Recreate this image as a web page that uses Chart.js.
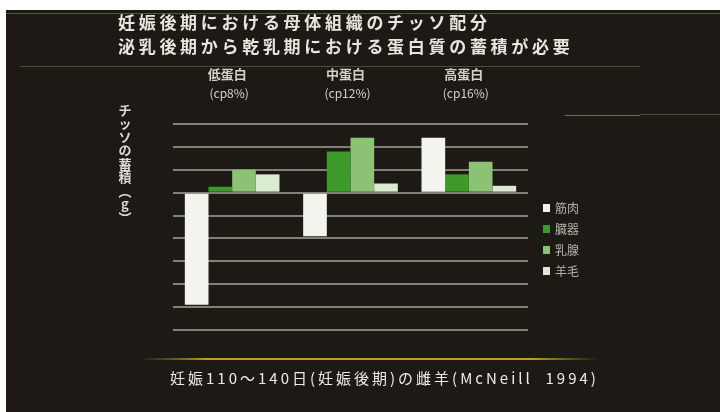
<!DOCTYPE html>
<html>
<head>
<meta charset="utf-8">
<script src="https://cdn.jsdelivr.net/npm/chart.js@4.4.0/dist/chart.umd.min.js"></script>
<style>
  html, body { margin: 0; padding: 0; background: #fff; }
  #wrap { width: 720px; height: 412px; position: relative; }
</style>
</head>
<body>
<div id="wrap"><canvas id="nChart" width="720" height="412"></canvas></div>
<script>
// Diet groups (crude protein level)
const groups = ['低蛋白', '中蛋白', '高蛋白'];
const groupCp = ['(cp8%)', '(cp12%)', '(cp16%)'];

// Tissue series labels
const tissues = ['筋肉', '臓器', '乳腺', '羊毛'];

// Nitrogen accumulation per tissue (g), one value per diet group
const muscle = [-49, -19, 24];
const organs = [2.6, 18, 8];
const mammary = [10, 24, 13.5];
const wool = [8, 4, 3];

// Scale range / gridline step
const yMin = -60;
const yMax = 30;
const yStep = 10;

const titleLines = [
    '妊娠後期における母体組織のチッソ配分',
    '泌乳後期から乾乳期における蛋白質の蓄積が必要'
];
const yTitle = ['チ', 'ッ', 'ソ', 'の', '蓄', '積', '︵', 'g', '︶'];
const footnote = '妊娠110～140日(妊娠後期)の雌羊(McNeill  1994)';

const colors = ['#f4f4ef', '#3e9a2a', '#8cc274', '#dcecd2'];
const JP = "'Noto Sans CJK JP', 'Noto Sans', sans-serif";

// Slide backdrop, rules and free text
const slideDecor = {
    id: 'slideDecor',
    beforeDraw(chart) {
        const { ctx, width, height } = chart;
        ctx.save();
        ctx.fillStyle = '#ffffff';
        ctx.fillRect(0, 0, width, height);
        ctx.fillStyle = '#1d1a16';
        ctx.fillRect(6, 10, width - 6, height - 10);

        // thin rules
        ctx.lineWidth = 1;
        ctx.strokeStyle = 'rgba(110, 150, 90, 0.55)';
        ctx.beginPath(); ctx.moveTo(6, 13.5); ctx.lineTo(width, 13.5); ctx.stroke();
        ctx.strokeStyle = 'rgba(110, 130, 95, 0.5)';
        ctx.beginPath(); ctx.moveTo(20, 66.5); ctx.lineTo(640, 66.5); ctx.stroke();
        ctx.strokeStyle = 'rgba(90, 190, 60, 0.7)';
        ctx.beginPath(); ctx.moveTo(565, 115.5); ctx.lineTo(640, 115.5); ctx.stroke();
        ctx.strokeStyle = 'rgba(120, 120, 100, 0.5)';
        ctx.beginPath(); ctx.moveTo(640, 114.5); ctx.lineTo(720, 114.5); ctx.stroke();

        const g = ctx.createLinearGradient(140, 0, 600, 0);
        g.addColorStop(0, 'rgba(200, 160, 40, 0)');
        g.addColorStop(0.15, 'rgba(210, 170, 50, 0.9)');
        g.addColorStop(0.85, 'rgba(210, 170, 50, 0.9)');
        g.addColorStop(1, 'rgba(200, 160, 40, 0)');
        ctx.strokeStyle = g;
        ctx.lineWidth = 2;
        ctx.beginPath(); ctx.moveTo(140, 359); ctx.lineTo(600, 359); ctx.stroke();

        // title
        ctx.fillStyle = '#e6e6de';
        ctx.font = 'bold 17px ' + JP;
        ctx.textBaseline = 'middle';
        ctx.textAlign = 'left';
        ctx.letterSpacing = '3.7px';
        ctx.fillText(titleLines[0], 118, 23);
        ctx.fillText(titleLines[1], 118, 47);

        // footnote
        ctx.letterSpacing = '3px';
        ctx.font = '15px ' + JP;
        ctx.fillStyle = '#ecece6';
        ctx.fillText(footnote, 170, 378);
        ctx.letterSpacing = '0px';
        ctx.restore();
    },
    afterDraw(chart) {
        const { ctx } = chart;
        const x = chart.scales.x;
        ctx.save();

        // diet group headings above the plot
        ctx.fillStyle = '#d2d2ca';
        ctx.textAlign = 'center';
        ctx.textBaseline = 'middle';
        groups.forEach((name, i) => {
            const cx = x.getPixelForValue(i) - 5;
            ctx.font = 'bold 13px ' + JP;
            ctx.fillText(name, cx, 74);
            ctx.font = '12px ' + JP;
            ctx.fillText(groupCp[i], cx + 2, 93);
        });

        // vertical axis caption
        ctx.fillStyle = '#dcdcd4';
        ctx.font = 'bold 13px ' + JP;
        yTitle.forEach((ch, i) => {
            ctx.fillText(ch, 125, 110 + i * 13.5);
        });

        // legend
        ctx.textAlign = 'left';
        ctx.font = '12px ' + JP;
        chart.data.datasets.forEach((ds, i) => {
            const ly = 208 + i * 21;
            ctx.fillStyle = ds.backgroundColor;
            ctx.fillRect(543, ly - 4, 7, 8);
            ctx.fillStyle = '#b4b4ac';
            ctx.fillText(ds.label, 555, ly);
        });
        ctx.restore();
    }
};

new Chart(document.getElementById('nChart'), {
    type: 'bar',
    data: {
        labels: groups,
        datasets: [
            { label: tissues[0], data: muscle, backgroundColor: colors[0] },
            { label: tissues[1], data: organs, backgroundColor: colors[1] },
            { label: tissues[2], data: mammary, backgroundColor: colors[2] },
            { label: tissues[3], data: wool, backgroundColor: colors[3] }
        ]
    },
    options: {
        responsive: false,
        animation: false,
        devicePixelRatio: 1,
        layout: {
            padding: { left: 173, right: 192, top: 124, bottom: 82 }
        },
        datasets: {
            bar: {
                categoryPercentage: 0.8,
                barPercentage: 1.0,
                borderWidth: 0
            }
        },
        plugins: {
            legend: { display: false },
            tooltip: { enabled: false }
        },
        scales: {
            x: {
                display: false
            },
            y: {
                min: yMin,
                max: yMax,
                ticks: { display: false, stepSize: yStep },
                border: { display: false },
                grid: {
                    color: '#808077',
                    lineWidth: 2,
                    drawTicks: false
                }
            }
        }
    },
    plugins: [slideDecor]
});
</script>
</body>
</html>
